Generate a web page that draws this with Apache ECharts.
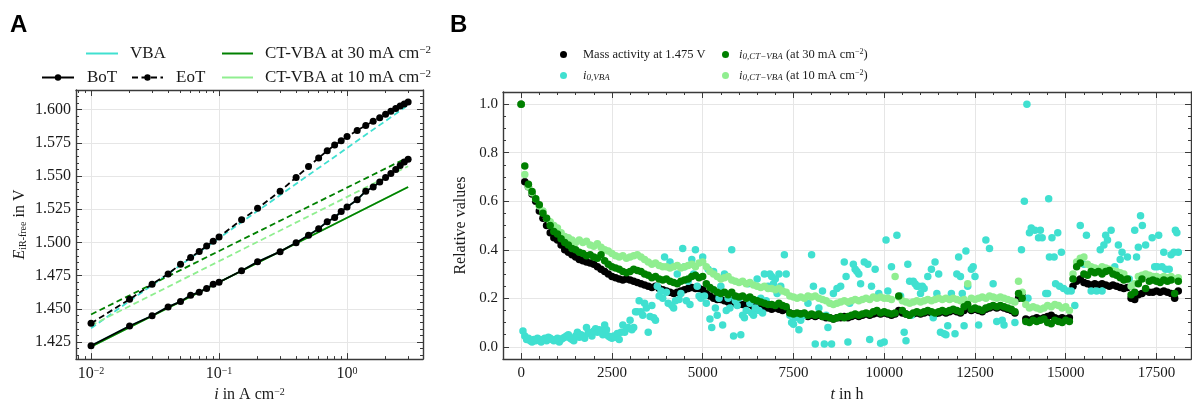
<!DOCTYPE html>
<html><head><meta charset="utf-8">
<script src="https://cdn.jsdelivr.net/npm/echarts@6/dist/echarts.min.js"></script>
<style>html,body{margin:0;padding:0;background:#fff}#c{width:1192px;height:408px}</style>
</head><body><div id="c"></div><script>
// ---------------- Panel A data ----------------
const currentDensity = [0.01,0.02,0.03,0.04,0.05,0.06,0.07,0.08,0.09,0.1,0.15,0.2,0.3,0.4,0.5,0.6,0.7,0.8,0.9,1.0,1.2,1.4,1.6,1.8,2.0,2.2,2.4,2.6,2.8,3.0];
const potentialBoT = [1.4223,1.4371,1.4448,1.4515,1.4555,1.4602,1.4626,1.4654,1.4686,1.4701,1.4787,1.4854,1.4931,1.4998,1.5055,1.5104,1.5156,1.5188,1.5233,1.5267,1.5322,1.5386,1.5418,1.5455,1.5490,1.5520,1.5550,1.5580,1.5605,1.5627];
const potentialEoT = [1.4391,1.4572,1.4686,1.4763,1.4837,1.4886,1.4933,1.4973,1.5010,1.5042,1.5171,1.5257,1.5386,1.5490,1.5572,1.5636,1.5691,1.5733,1.5765,1.5797,1.5844,1.5881,1.5913,1.5940,1.5965,1.5988,1.6008,1.6027,1.6043,1.6057];
const vbaFitBoT = [1.4223,1.4371,1.4448,1.4515,1.4555,1.4602,1.4626,1.4654,1.4686,1.4701,1.4787,1.4854,1.4931,1.4998,1.5055,1.5104,1.5156,1.5188,1.5233,1.5267,1.5322,1.5386,1.5418,1.5455,1.5490,1.5520,1.5550,1.5580,1.5605,1.5627];
const fitRange = [0.01, 3.0];
const vbaFitEoT = [1.4355, 1.6035];
const ct30FitBoT = [1.4215, 1.5418];
const ct30FitEoT = [1.4458, 1.5641];
const ct10FitBoT = [1.4215, 1.5418];
const ct10FitEoT = [1.4375, 1.5574];
const yTicksA = [1.425,1.45,1.475,1.5,1.525,1.55,1.575,1.6];

// ---------------- Panel B data ----------------
const timeHours = [0,100,200,300,400,500,600,700,800,900,1000,1100,1200,1300,1400,1500,1600,1700,1800,1900,2000,2100,2200,2300,2400,2500,2600,2700,2800,2900,3000,3100,3200,3300,3400,3500,3600,3700,3800,3900,4000,4100,4200,4300,4400,4500,4600,4700,4800,4900,5000,5100,5200,5300,5400,5500,5600,5700,5800,5900,6000,6100,6200,6300,6400,6500,6600,6700,6800,6900,7000,7100,7200,7300,7400,7500,7600,7700,7800,7900,8000,8100,8200,8300,8400,8500,8600,8700,8800,8900,9000,9100,9200,9300,9400,9500,9600,9700,9800,9900,10000,10100,10200,10300,10400,10500,10600,10700,10800,10900,11000,11100,11200,11300,11400,11500,11600,11700,11800,11900,12000,12100,12200,12300,12400,12500,12600,12700,12800,12900,13000,13100,13200,13300,13400,13500,13600,13700,13800,13900,14000,14100,14200,14300,14400,14500,14600,14700,14800,14900,15000,15100,15200,15300,15400,15500,15600,15700,15800,15900,16000,16100,16200,16300,16400,16500,16600,16700,16800,16900,17000,17100,17200,17300,17400,17500,17600,17700,17800,17900,18000,18100];
const massActivity = [1.0,0.68,0.66,0.63,0.60,0.56,0.53,0.50,0.47,0.45,0.44,0.42,0.40,0.39,0.38,0.37,0.36,0.355,0.35,0.345,0.34,0.33,0.32,0.31,0.30,0.29,0.285,0.28,0.275,0.28,0.275,0.27,0.265,0.26,0.255,0.25,0.245,0.25,0.24,0.235,0.23,0.225,0.22,0.225,0.23,0.235,0.24,0.245,0.24,0.24,0.235,0.22,0.21,0.20,0.195,0.195,0.19,0.185,0.19,0.18,0.175,0.175,0.17,0.175,0.165,0.16,0.16,0.165,0.16,0.155,0.16,0.155,0.15,0.155,0.14,0.135,0.13,0.135,0.13,0.125,0.13,0.125,0.13,0.125,0.12,0.12,0.115,0.12,0.12,0.125,0.12,0.125,0.13,0.125,0.13,0.135,0.13,0.135,0.14,0.135,0.14,0.135,0.13,0.135,0.15,0.14,0.135,0.13,0.135,0.14,0.135,0.14,0.145,0.14,0.135,0.14,0.145,0.14,0.145,0.15,0.145,0.14,0.15,0.16,0.15,0.155,0.15,0.145,0.155,0.16,0.165,0.16,0.165,0.16,0.155,0.15,0.14,0.20,0.21,0.115,0.11,0.115,0.12,0.115,0.12,0.125,0.13,0.12,0.115,0.12,0.115,0.12,0.25,0.27,0.28,0.265,0.26,0.255,0.26,0.255,0.26,0.255,0.25,0.255,0.25,0.245,0.24,0.245,0.20,0.195,0.215,0.22,0.23,0.225,0.225,0.23,0.225,0.23,0.225,0.22,0.20,0.23];
const i0CtVba30 = [1.0,0.745,0.67,0.64,0.61,0.585,0.55,0.53,0.50,0.475,0.465,0.445,0.43,0.42,0.405,0.40,0.39,0.385,0.375,0.38,0.37,0.365,0.38,0.355,0.34,0.33,0.325,0.32,0.31,0.305,0.31,0.32,0.315,0.31,0.30,0.295,0.285,0.29,0.28,0.275,0.28,0.27,0.265,0.26,0.27,0.275,0.28,0.29,0.295,0.285,0.29,0.26,0.245,0.235,0.225,0.22,0.225,0.215,0.225,0.21,0.205,0.21,0.20,0.205,0.195,0.19,0.185,0.18,0.175,0.175,0.17,0.18,0.17,0.165,0.14,0.135,0.14,0.135,0.14,0.13,0.135,0.13,0.135,0.125,0.125,0.12,0.115,0.12,0.125,0.12,0.125,0.13,0.135,0.13,0.135,0.14,0.135,0.145,0.15,0.14,0.145,0.14,0.135,0.14,0.21,0.15,0.135,0.13,0.14,0.145,0.14,0.145,0.15,0.145,0.14,0.145,0.15,0.145,0.15,0.155,0.15,0.145,0.165,0.175,0.155,0.16,0.155,0.15,0.16,0.165,0.17,0.165,0.17,0.165,0.16,0.155,0.145,0.22,0.20,0.105,0.10,0.11,0.105,0.11,0.115,0.10,0.095,0.11,0.105,0.10,0.11,0.105,0.28,0.33,0.345,0.30,0.295,0.31,0.305,0.31,0.30,0.31,0.315,0.30,0.295,0.285,0.275,0.28,0.215,0.225,0.26,0.28,0.24,0.27,0.275,0.27,0.265,0.275,0.27,0.275,0.22,0.27];
const i0CtVba10 = [1.0,0.71,0.66,0.635,0.61,0.58,0.56,0.53,0.515,0.50,0.49,0.47,0.455,0.45,0.44,0.43,0.44,0.43,0.435,0.42,0.415,0.425,0.41,0.40,0.395,0.385,0.375,0.37,0.375,0.365,0.37,0.375,0.38,0.37,0.36,0.35,0.34,0.345,0.335,0.33,0.33,0.325,0.33,0.335,0.325,0.33,0.335,0.34,0.33,0.345,0.35,0.33,0.31,0.30,0.29,0.28,0.285,0.29,0.275,0.27,0.265,0.27,0.26,0.265,0.255,0.25,0.245,0.25,0.24,0.24,0.235,0.24,0.23,0.225,0.21,0.205,0.20,0.205,0.20,0.21,0.205,0.21,0.20,0.195,0.19,0.18,0.175,0.18,0.185,0.19,0.185,0.19,0.195,0.19,0.195,0.20,0.195,0.205,0.20,0.205,0.20,0.20,0.195,0.29,0.205,0.19,0.185,0.18,0.185,0.19,0.185,0.19,0.195,0.19,0.195,0.20,0.195,0.20,0.195,0.20,0.195,0.19,0.195,0.26,0.20,0.195,0.20,0.205,0.20,0.21,0.205,0.20,0.205,0.20,0.195,0.19,0.185,0.27,0.225,0.175,0.16,0.165,0.16,0.155,0.16,0.17,0.165,0.175,0.17,0.16,0.165,0.15,0.30,0.35,0.365,0.37,0.34,0.33,0.325,0.32,0.33,0.325,0.32,0.315,0.31,0.305,0.30,0.28,0.25,0.26,0.29,0.295,0.30,0.295,0.29,0.29,0.285,0.29,0.285,0.29,0.28,0.285];
const vbaTime = [50,100,150,200,250,300,350,400,450,500,550,600,650,700,750,800,850,900,950,1000,1050,1100,1150,1200,1250,1300,1350,1400,1450,1500,1550,1600,1650,1700,1750,1800,1850,1900,1950,2000,2050,2100,2150,2200,2250,2300,2350,2400,2450,2500,2550,2600,2650,2700,2750,2800,2850,2900,2950,3000,3050,3100,3150,3200,3250,3300,3350,3400,3450,3500,3550,3600,3650,3700,3750,3800,3850,3900,3950,4000,4050,4100,4150,4200,4250,4300,4350,4400,4450,4500,4550,4600,4650,4700,4750,4800,4850,4900,4950,5000,5050,5100,5150,5200,5250,5300,5350,5400,5450,5500,5550,5600,5650,5700,5750,5800,5850,5900,5950,6000,6050,6100,6150,6200,6250,6300,6350,6400,6450,6500,6550,6600,6650,6700,6750,6800,6850,6900,6950,7000,7050,7100,7150,7250,7300,7400,7450,7500,7550,7650,7700,7800,7900,8000,8050,8100,8200,8300,8350,8400,8450,8550,8600,8700,8800,8900,8950,9000,9050,9150,9200,9250,9300,9350,9450,9550,9600,9650,9750,9850,9900,10000,10050,10100,10200,10350,10450,10550,10600,10650,10700,10750,10800,10850,10900,10950,11000,11050,11100,11200,11300,11350,11400,11450,11500,11550,11650,11700,11750,11850,11950,12000,12050,12100,12150,12200,12250,12300,12400,12450,12500,12600,12800,12900,13000,13100,13250,13300,13600,13780,13860,13930,13960,14000,14050,14150,14250,14300,14350,14450,14500,14530,14550,14620,14680,14720,14780,14830,14880,14940,15050,15150,15250,15400,15500,15570,15700,15850,15950,16000,16050,16100,16150,16250,16350,16450,16500,16550,16700,16750,16900,16950,17000,17060,17110,17200,17380,17450,17520,17560,17650,17700,17750,17850,17900,17980,18020,18060,18100];
const i0Vba = [0.065,0.045,0.03,0.035,0.025,0.02,0.03,0.025,0.035,0.03,0.02,0.03,0.035,0.025,0.04,0.035,0.03,0.025,0.03,0.035,0.02,0.03,0.035,0.04,0.045,0.05,0.035,0.03,0.025,0.045,0.06,0.04,0.05,0.045,0.035,0.08,0.06,0.055,0.045,0.065,0.075,0.06,0.07,0.065,0.05,0.09,0.07,0.045,0.04,0.035,0.045,0.04,0.055,0.03,0.06,0.09,0.06,0.075,0.08,0.11,0.07,0.08,0.145,0.145,0.19,0.145,0.13,0.18,0.16,0.06,0.125,0.17,0.12,0.11,0.25,0.21,0.23,0.20,0.37,0.225,0.18,0.35,0.17,0.16,0.19,0.30,0.195,0.22,0.405,0.33,0.19,0.27,0.175,0.36,0.30,0.40,0.25,0.21,0.20,0.37,0.21,0.18,0.32,0.115,0.08,0.31,0.16,0.13,0.20,0.25,0.09,0.30,0.15,0.20,0.16,0.40,0.045,0.19,0.17,0.20,0.05,0.13,0.12,0.15,0.26,0.18,0.14,0.13,0.16,0.28,0.15,0.20,0.14,0.30,0.19,0.25,0.30,0.29,0.26,0.28,0.22,0.30,0.25,0.38,0.30,0.13,0.10,0.093,0.12,0.07,0.11,0.13,0.18,0.38,0.25,0.012,0.16,0.23,0.012,0.13,0.08,0.012,0.22,0.24,0.25,0.35,0.29,0.02,0.18,0.34,0.32,0.31,0.30,0.26,0.35,0.34,0.03,0.25,0.32,0.22,0.015,0.02,0.44,0.23,0.33,0.46,0.21,0.06,0.025,0.34,0.27,0.13,0.27,0.26,0.25,0.25,0.22,0.25,0.24,0.29,0.32,0.12,0.35,0.22,0.30,0.06,0.054,0.05,0.087,0.22,0.054,0.30,0.37,0.29,0.22,0.087,0.395,0.25,0.32,0.33,0.29,0.09,0.44,0.405,0.26,0.104,0.11,0.09,0.10,0.40,0.60,1.0,0.20,0.47,0.49,0.48,0.45,0.48,0.45,0.22,0.22,0.61,0.37,0.45,0.37,0.26,0.47,0.25,0.39,0.24,0.23,0.23,0.17,0.50,0.34,0.46,0.23,0.23,0.40,0.23,0.42,0.46,0.44,0.48,0.33,0.42,0.36,0.39,0.37,0.28,0.48,0.37,0.41,0.54,0.50,0.42,0.45,0.33,0.33,0.46,0.33,0.39,0.32,0.32,0.38,0.39,0.48,0.47,0.39];
const yTicksB = [0,0.2,0.4,0.6,0.8,1.0];
const xTicksB = [0,2500,5000,7500,10000,12500,15000,17500];

// ---------------- styling ----------------
const SERIF = 'Liberation Serif';
const TXT = '#1a1a1a';
const FRAME = '#3a3a3a';
const GRIDC = '#e6e6e6';
const CYAN = '#40E0D0', DGREEN = '#008000', LGREEN = '#90EE90';

const zip = (xs, ys) => xs.map((x, k) => [x, ys[k]]);
function rich(fs) {
  return {
    it: {fontStyle: 'italic', fontFamily: SERIF, fontSize: fs, color: TXT},
    sub: {fontFamily: SERIF, fontSize: Math.round(fs * 0.65), verticalAlign: 'bottom', color: TXT},
    isub: {fontStyle: 'italic', fontFamily: SERIF, fontSize: Math.round(fs * 0.7), verticalAlign: 'bottom', color: TXT},
    sup: {fontFamily: SERIF, fontSize: Math.round(fs * 0.65), verticalAlign: 'top', color: TXT}
  };
}

// axis extents
const xMinA = 0.00763, xMaxA = 3.92, yMinA = 1.4122, yMaxA = 1.6148;
const xMinB = -500, xMaxB = 18450, yMinB = -0.05, yMaxB = 1.05;

// tick position lists (not data)
const logMinorA = [];
for (let d = -3; d <= 0; d++) for (let k = 2; k <= 9; k++) {
  const v = k * Math.pow(10, d);
  if (v > xMinA && v < xMaxA) logMinorA.push(Math.log10(v));
}
const yMinorA = []; for (let k = 283; k <= 322; k++) yMinorA.push(+(k * 0.005).toFixed(3));
const yMinorB = []; for (let k = 0; k <= 20; k++) yMinorB.push(+(k * 0.05).toFixed(2));
const xMinorB = []; for (let k = 0; k <= 36; k++) xMinorB.push(k * 500);

function frameAxis(o) {
  const base = {
    gridIndex: o.grid, type: o.type || 'value', position: o.pos, min: o.min, max: o.max,
    axisLine: {show: !!o.line, onZero: false, lineStyle: {color: FRAME, width: 1.4}},
    axisTick: {show: true, inside: true, length: o.len, lineStyle: {color: FRAME, width: 1}},
    axisLabel: {show: false},
    splitLine: {show: false}
  };
  if (o.custom) base.axisTick.customValues = o.custom;
  if (o.label) base.axisLabel = o.label;
  if (o.split) base.splitLine = {show: true, lineStyle: {color: GRIDC, width: 1}};
  if (o.name) { base.name = o.name; base.nameLocation = 'middle'; base.nameGap = o.nameGap; base.nameTextStyle = o.nameStyle; }
  return base;
}

const supFmt = v => {
  const e = Math.round(Math.log10(v));
  return '10{sup|' + (e < 0 ? '\u2212' + (-e) : e) + '}';
};

const xAxis = [
  // Panel A
  frameAxis({grid: 0, type: 'log', pos: 'bottom', min: xMinA, max: xMaxA, line: true, len: 6, split: true,
    label: {show: true, margin: 7, fontFamily: SERIF, fontSize: 16, color: TXT, formatter: supFmt, showMinLabel: false, showMaxLabel: false, rich: rich(16)},
    name: '{it|i} in A cm{sup|\u22122}', nameGap: 27, nameStyle: {fontFamily: SERIF, fontSize: 16, color: TXT, rich: rich(16)}}),
  frameAxis({grid: 0, pos: 'bottom', min: Math.log10(xMinA), max: Math.log10(xMaxA), len: 3, custom: logMinorA}),
  frameAxis({grid: 0, type: 'log', pos: 'top', min: xMinA, max: xMaxA, line: true, len: 6}),
  frameAxis({grid: 0, pos: 'top', min: Math.log10(xMinA), max: Math.log10(xMaxA), len: 3, custom: logMinorA}),
  // Panel B
  frameAxis({grid: 1, pos: 'bottom', min: xMinB, max: xMaxB, line: true, len: 6, split: true, custom: xTicksB,
    label: {show: true, margin: 7, fontFamily: SERIF, fontSize: 15, color: TXT, customValues: xTicksB, formatter: v => String(v)},
    name: '{it|t} in h', nameGap: 28, nameStyle: {fontFamily: SERIF, fontSize: 16, color: TXT, rich: rich(16)}}),
  frameAxis({grid: 1, pos: 'bottom', min: xMinB, max: xMaxB, len: 3, custom: xMinorB}),
  frameAxis({grid: 1, pos: 'top', min: xMinB, max: xMaxB, line: true, len: 6, custom: xTicksB}),
  frameAxis({grid: 1, pos: 'top', min: xMinB, max: xMaxB, len: 3, custom: xMinorB})
];
const yAxis = [
  frameAxis({grid: 0, pos: 'left', min: yMinA, max: yMaxA, line: true, len: 6, split: true, custom: yTicksA,
    label: {show: true, margin: 5, fontFamily: SERIF, fontSize: 16, color: TXT, customValues: yTicksA, formatter: v => v.toFixed(3)},
    name: '{it|E}{sub|iR-free} in V', nameGap: 48, nameStyle: {fontFamily: SERIF, fontSize: 16, color: TXT, rich: rich(16)}}),
  frameAxis({grid: 0, pos: 'left', min: yMinA, max: yMaxA, len: 3, custom: yMinorA}),
  frameAxis({grid: 0, pos: 'right', min: yMinA, max: yMaxA, line: true, len: 6, custom: yTicksA}),
  frameAxis({grid: 0, pos: 'right', min: yMinA, max: yMaxA, len: 3, custom: yMinorA}),
  frameAxis({grid: 1, pos: 'left', min: yMinB, max: yMaxB, line: true, len: 6, split: true, custom: yTicksB,
    label: {show: true, margin: 5, fontFamily: SERIF, fontSize: 15, color: TXT, customValues: yTicksB, formatter: v => v.toFixed(1)},
    name: 'Relative values', nameGap: 34, nameStyle: {fontFamily: SERIF, fontSize: 16, color: TXT}}),
  frameAxis({grid: 1, pos: 'left', min: yMinB, max: yMaxB, len: 3, custom: yMinorB}),
  frameAxis({grid: 1, pos: 'right', min: yMinB, max: yMaxB, line: true, len: 6, custom: yTicksB}),
  frameAxis({grid: 1, pos: 'right', min: yMinB, max: yMaxB, len: 3, custom: yMinorB})
];

const lineA = (name, xs, ys, color, dashed, marker) => ({
  name, type: 'line', xAxisIndex: 0, yAxisIndex: 0, data: zip(xs, ys),
  symbol: marker ? 'circle' : 'none', symbolSize: 7, showSymbol: !!marker,
  itemStyle: {color}, lineStyle: {color, width: 1.8, type: dashed ? [6, 3.5] : 'solid'},
  silent: true, animation: false, z: marker ? 4 : 3
});
const scatterB = (name, xs, ys, color) => ({
  name, type: 'scatter', xAxisIndex: 4, yAxisIndex: 4, data: zip(xs, ys),
  symbol: 'circle', symbolSize: 7.5, itemStyle: {color, opacity: 1}, silent: true, animation: false
});

const series = [
  lineA('VBA', currentDensity, vbaFitBoT, CYAN, false, false),
  lineA('CT10', fitRange, ct10FitBoT, LGREEN, false, false),
  lineA('CT30', fitRange, ct30FitBoT, DGREEN, false, false),
  lineA('VBA EoT fit', fitRange, vbaFitEoT, CYAN, true, false),
  lineA('CT10 EoT fit', fitRange, ct10FitEoT, LGREEN, true, false),
  lineA('CT30 EoT fit', fitRange, ct30FitEoT, DGREEN, true, false),
  lineA('BoT', currentDensity, potentialBoT, '#000', false, true),
  lineA('EoT', currentDensity, potentialEoT, '#000', true, true),
  scatterB('MA', timeHours, massActivity, '#000'),
  scatterB('i0VBA', vbaTime, i0Vba, CYAN),
  scatterB('i0CT10', timeHours, i0CtVba10, LGREEN),
  scatterB('i0CT30', timeHours, i0CtVba30, DGREEN)
];

const legendText = {
  'VBA': 'VBA', 'CT30': 'CT-VBA at 30 mA cm{sup|\u22122}', 'CT10': 'CT-VBA at 10 mA cm{sup|\u22122}',
  'BoT': 'BoT', 'EoT': 'EoT',
  'MA': 'Mass activity at 1.475 V',
  'i0VBA': '{it|i}{isub|0,VBA}',
  'i0CT30': '{it|i}{isub|0,CT\u2212VBA} (at 30 mA cm{sup|\u22122})',
  'i0CT10': '{it|i}{isub|0,CT\u2212VBA} (at 10 mA cm{sup|\u22122})'
};
function leg(name, left, top, w, h, pad, fs, icon) {
  const item = icon ? {name, icon} : name;
  return {
    data: [item], left, top, orient: 'horizontal', padding: 0, itemWidth: w, itemHeight: h,
    selectedMode: false, formatter: n => legendText[n],
    textStyle: {fontFamily: SERIF, fontSize: fs, color: TXT, padding: [0, 0, 0, pad], rich: rich(fs)}
  };
}
const legend = [
  leg('VBA', 86, 45, 32, 2, 7, 17, 'rect'),
  leg('CT30', 222, 45, 31, 2, 7, 17, 'rect'),
  leg('BoT', 41, 69, 32, 8, 8, 17),
  leg('EoT', 131, 69, 31, 8, 8, 17),
  leg('CT10', 222, 69, 31, 2, 7, 17, 'rect'),
  leg('MA', 560, 48, 7, 7, 11, 12.5),
  leg('i0VBA', 560, 69, 7, 7, 11, 12.5),
  leg('i0CT30', 722, 48, 7, 7, 5, 12.5),
  leg('i0CT10', 722, 69, 7, 7, 5, 12.5)
];

const chart = echarts.init(document.getElementById('c'), null, {renderer: 'canvas'});
chart.setOption({
  backgroundColor: '#fff',
  animation: false,
  title: [
    {text: 'A', left: 10, top: 13, padding: 0, textStyle: {fontFamily: 'Liberation Sans', fontWeight: 'bold', fontSize: 24, color: '#000'}},
    {text: 'B', left: 450, top: 13, padding: 0, textStyle: {fontFamily: 'Liberation Sans', fontWeight: 'bold', fontSize: 24, color: '#000'}}
  ],
  grid: [
    {left: 76, top: 90, right: 769, bottom: 45, containLabel: false},
    {left: 503, top: 92, right: 1, bottom: 45, containLabel: false}
  ],
  legend, xAxis, yAxis, series
});
</script></body></html>
